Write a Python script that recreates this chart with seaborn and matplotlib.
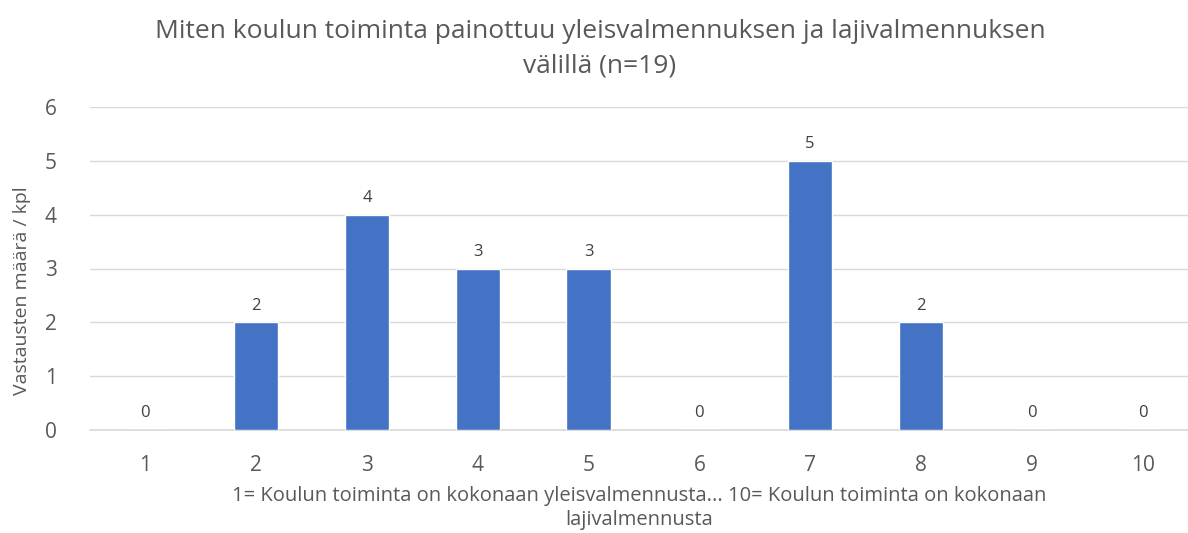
import matplotlib
matplotlib.use("Agg")
import matplotlib.pyplot as plt
import seaborn as sns
import pandas as pd

# data
categories = ["1", "2", "3", "4", "5", "6", "7", "8", "9", "10"]
counts = [0, 2, 4, 3, 3, 0, 5, 2, 0, 0]

title = "Miten koulun toiminta painottuu yleisvalmennuksen ja lajivalmennuksen\nvälillä (n=19)"
x_label = "1= Koulun toiminta on kokonaan yleisvalmennusta... 10= Koulun toiminta on kokonaan\nlajivalmennusta"
y_label = "Vastausten määrä / kpl"

df = pd.DataFrame({"category": categories, "count": counts})

sns.set_theme(style="white")
plt.rcParams["font.family"] = ["Open Sans", "DejaVu Sans"]

text_gray = "#595959"

fig = plt.figure(figsize=(11.88, 5.33), dpi=100)
ax = fig.add_axes([90 / 1188, 1 - 430 / 533, 1 - 90 / 1188, 323 / 533])

sns.barplot(data=df, x="category", y="count", color="#4472C4", width=0.4,
            saturation=1, ax=ax, zorder=3)

for i, v in enumerate(counts):
    ax.text(i, v + 0.31, str(v), ha="center", va="center", fontsize=12,
            color="#404040")

ax.set_ylim(0, 6)
ax.set_xlim(-0.5, 9.41)
ax.set_yticks(range(0, 7))
ax.yaxis.grid(True, color="#D9D9D9", linewidth=1, zorder=0)
for s in ["top", "right", "left"]:
    ax.spines[s].set_visible(False)
ax.spines["bottom"].set_color("#D9D9D9")
ax.tick_params(axis="both", length=0, labelsize=15, colors=text_gray)
ax.tick_params(axis="x", pad=18)
ax.tick_params(axis="y", pad=24)

ax.set_xlabel(x_label, fontsize=14.5, color=text_gray, labelpad=7,
              linespacing=1.3)
ax.set_ylabel(y_label, fontsize=14, color=text_gray)
ax.yaxis.set_label_coords(-0.054, 0.43)

fig.text(0.505, 0.908, title, ha="center", va="center", fontsize=19,
         color=text_gray, linespacing=1.5)

fig.savefig("out.png", dpi=100)
